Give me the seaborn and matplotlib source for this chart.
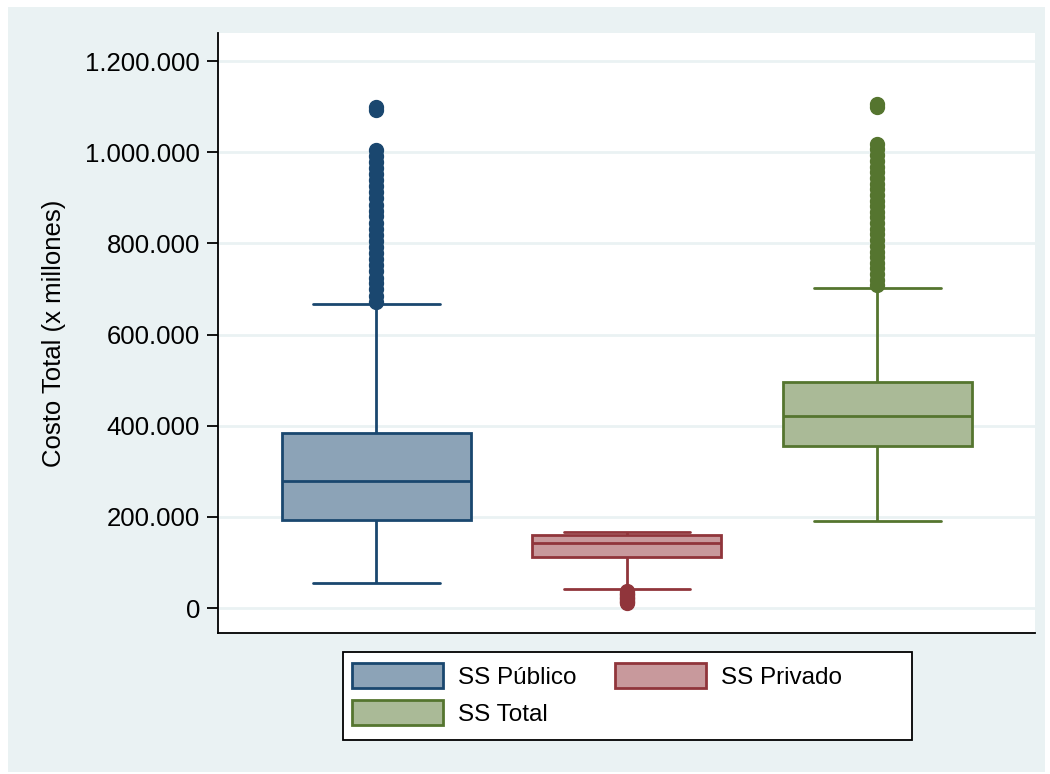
import pandas as pd
import numpy as np
import matplotlib.pyplot as plt
import seaborn as sns
from matplotlib.patches import Patch, Rectangle
from matplotlib.ticker import FuncFormatter

# --- datos (costo total, x millones) ---
grupos = ['SS Público', 'SS Privado', 'SS Total']

ss_publico = [
    54000, 68000, 80000, 90000, 99000, 107000, 114000, 120000, 126000, 131000,
    136000, 141000, 145000, 149000, 153000, 157000, 160000, 163000, 166000,
    169000, 172000, 175000, 178000, 180000, 183000, 185000, 187000, 189000, 191000,
    193000,
    196000, 199000, 202000, 205000, 208000, 211000, 214000, 217000, 220000,
    223000, 226000, 229000, 232000, 235000, 238000, 241000, 244000, 247000,
    250000, 253000, 256000, 259000, 262000, 265000, 268000, 271000, 274000, 276000,
    279000,
    282000, 286000, 290000, 294000, 298000, 302000, 306000, 310000, 314000,
    318000, 322000, 326000, 330000, 334000, 338000, 342000, 346000, 350000,
    354000, 358000, 362000, 366000, 369000, 372000, 375000, 378000, 380000, 382000,
    384000,
    668000,
    672000, 685000, 699000, 712000, 725000, 739000, 752000, 765000, 779000,
    792000, 805000, 819000, 832000, 845000, 859000, 872000, 885000, 899000,
    912000, 925000, 939000, 952000, 965000, 979000, 992000, 1005000,
    1093000, 1099000,
]

ss_privado = [
    10000, 13000, 16000, 19000, 22000, 25000, 28000, 31000, 34000, 37000,
    41000, 50000, 58000, 66000, 73000, 79000, 84000, 88000, 92000, 95000,
    98000, 100000, 102000, 104000, 106000, 107500, 109000, 110000, 111000,
    112000,
    113000, 114000, 115000, 116000, 117000, 118000, 119000, 120000, 121000,
    122000, 123000, 124000, 125000, 126000, 127000, 128000, 129000, 130000,
    131000, 132000, 133000, 134000, 135000, 136000, 137000, 138000, 140000, 142000,
    143000,
    144000, 145000, 146000, 147000, 148000, 149000, 150000, 151000, 152000,
    153000, 154000, 155000, 155500, 156000, 156500, 157000, 157500, 158000,
    158500, 159000, 159300, 159600, 159900, 160200, 160400, 160600, 160800, 160900,
    161000,
    161200, 161400, 161600, 161800, 162000, 162200, 162400, 162600, 162800,
    163000, 163200, 163400, 163600, 163800, 164000, 164200, 164400, 164600,
    164800, 165000, 165200, 165400, 165500, 165600, 165700, 165800, 165900,
    166000, 166000,
]

ss_total = [
    190000, 205000, 220000, 234000, 247000, 259000, 270000, 280000, 289000,
    297000, 304000, 310000, 316000, 321000, 326000, 330000, 334000, 337000,
    340000, 342000, 344000, 346000, 348000, 349000, 350000, 351000, 352000,
    353000, 354000,
    355000,
    357000, 360000, 362000, 364000, 367000, 369000, 371000, 374000, 376000,
    378000, 381000, 383000, 385000, 388000, 390000, 392000, 395000, 397000,
    399000, 402000, 404000, 406000, 409000, 411000, 413000, 416000, 418000, 420000,
    422000,
    424000, 427000, 429000, 432000, 434000, 437000, 439000, 442000, 444000,
    447000, 449000, 452000, 454000, 457000, 459000, 462000, 464000, 467000,
    469000, 472000, 474000, 477000, 479000, 482000, 484000, 487000, 489000, 492000,
    495000,
    703000,
    708000, 720000, 733000, 745000, 758000, 770000, 782000, 795000, 807000,
    820000, 832000, 844000, 857000, 869000, 882000, 894000, 906000, 919000,
    931000, 944000, 956000, 968000, 981000, 993000, 1006000, 1018000,
    1100000, 1105000,
]

df = pd.DataFrame({
    'grupo': ['SS Público'] * len(ss_publico) + ['SS Privado'] * len(ss_privado)
             + ['SS Total'] * len(ss_total),
    'costo': ss_publico + ss_privado + ss_total,
})

relleno = {'SS Público': '#8ca3b7', 'SS Privado': '#c8999c', 'SS Total': '#aaba97'}
borde = {'SS Público': '#1a476f', 'SS Privado': '#90353b', 'SS Total': '#55752f'}
fondo = '#eaf2f3'

sns.set_theme(style='white')
plt.rcParams['font.family'] = ['Liberation Sans', 'DejaVu Sans']
plt.rcParams['text.color'] = 'black'
plt.rcParams['axes.labelcolor'] = 'black'
plt.rcParams['ytick.color'] = 'black'

fig = plt.figure(figsize=(10.5, 7.74), dpi=100)
fig.patch.set_facecolor('white')
fig.add_artist(Rectangle((8 / 1050, 2 / 774), 1037 / 1050, 765 / 774,
                         transform=fig.transFigure, facecolor=fondo,
                         edgecolor='none', zorder=-10))
ax = fig.add_axes([218 / 1050, 1 - 633 / 774, 817 / 1050, 600 / 774])
ax.set_facecolor('white')

ancho = 0.754
for g in grupos:
    sns.boxplot(data=df[df['grupo'] == g], x='grupo', y='costo', order=grupos,
                color=relleno[g], linecolor=borde[g], saturation=1,
                width=ancho, linewidth=2, ax=ax,
                flierprops=dict(marker='o', markerfacecolor=borde[g],
                                markeredgecolor=borde[g], markersize=10,
                                markeredgewidth=1),
                medianprops=dict(color=borde[g], linewidth=2))

# tapas de los bigotes mas anchas (como en Stata)
cap = 0.67 * ancho
for ln in ax.lines:
    x = np.asarray(ln.get_xdata(), dtype=float)
    y = np.asarray(ln.get_ydata(), dtype=float)
    if len(x) == 2 and y[0] == y[1] and abs(x[1] - x[0]) < 0.95 * ancho:
        c = x.mean()
        ln.set_xdata([c - cap / 2, c + cap / 2])

ax.set_xlim(-0.632, 2.629)
ax.set_ylim(-54800, 1261500)
ax.set_yticks([0, 200000, 400000, 600000, 800000, 1000000, 1200000])
ax.yaxis.set_major_formatter(FuncFormatter(lambda v, p: f'{v:,.0f}'.replace(',', '.')))
ax.yaxis.grid(True, color=fondo, linewidth=2)
ax.set_axisbelow(True)
ax.set_xticks([])
ax.set_xlabel('')
ax.set_ylabel('Costo Total (x millones)', fontsize=18.5, labelpad=14)
ax.tick_params(axis='y', labelsize=18.5, length=8, width=1.3, color='black',
               labelcolor='black', left=True, pad=5)
for s in ['top', 'right']:
    ax.spines[s].set_visible(False)
for s in ['left', 'bottom']:
    ax.spines[s].set_color('black')
    ax.spines[s].set_linewidth(1.3)

# marco de la leyenda (ancho fijo como en Stata)
fig.add_artist(Rectangle((343 / 1050, 1 - 740 / 774), 569 / 1050, 88 / 774,
                         transform=fig.transFigure, facecolor='white',
                         edgecolor='black', linewidth=1.3, zorder=1))

# leyenda (orden por filas como en el original)
handles = [Patch(facecolor=relleno[g], edgecolor=borde[g], linewidth=2, label=g)
           for g in ['SS Público', 'SS Total', 'SS Privado']]
leg = fig.legend(handles=handles, ncol=2, loc='upper left',
                 bbox_to_anchor=(352 / 1050, 1 - 663 / 774),
                 fontsize=17.5, frameon=False, borderaxespad=0, borderpad=0,
                 handlelength=3.75, handleheight=1.22, handletextpad=0.6,
                 columnspacing=1.6, labelspacing=0.45)
leg.set_zorder(2)

fig.savefig('out.png', dpi=100)
